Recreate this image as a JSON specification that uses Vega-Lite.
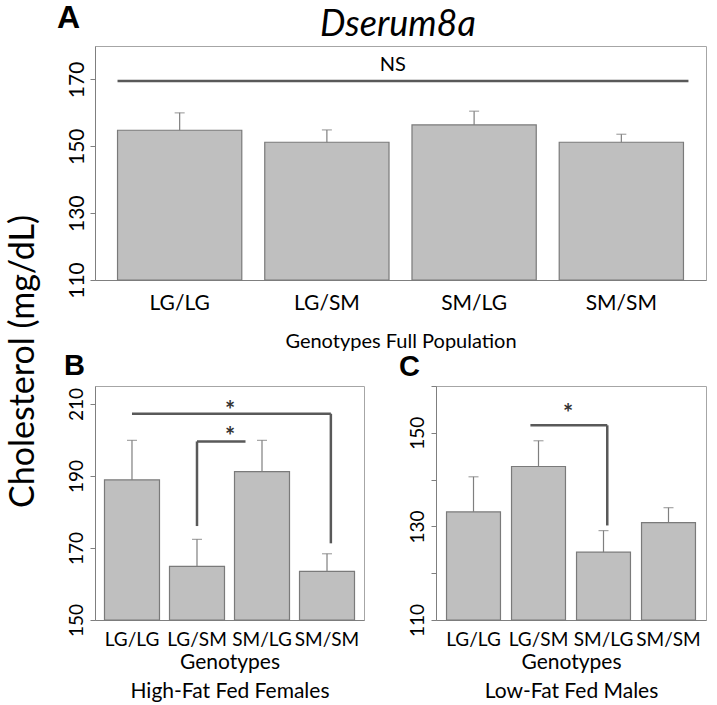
{
  "$schema": "https://vega.github.io/schema/vega-lite/v6.json",
  "background": "white",
  "padding": {"left": 5, "top": 1, "right": 5, "bottom": 0},
  "bounds": "flush",
  "spacing": 106,
  "title": {"text": "Dserum8a", "font": "Lato", "fontStyle": "italic", "fontWeight": "normal", "fontSize": 36, "anchor": "middle", "frame": "group", "dx": 303, "offset": -42, "color": "#000"},
  "datasets": {
    "A": [
      {"genotype": "LG/LG", "mean": 154.8, "upper": 160.0},
      {"genotype": "LG/SM", "mean": 151.2, "upper": 154.9},
      {"genotype": "SM/LG", "mean": 156.4, "upper": 160.5},
      {"genotype": "SM/SM", "mean": 151.2, "upper": 153.6}
    ],
    "B": [
      {"genotype": "LG/LG", "mean": 188.9, "upper": 199.9},
      {"genotype": "LG/SM", "mean": 164.9, "upper": 172.4},
      {"genotype": "SM/LG", "mean": 191.2, "upper": 199.9},
      {"genotype": "SM/SM", "mean": 163.5, "upper": 168.4}
    ],
    "C": [
      {"genotype": "LG/LG", "mean": 133.1, "upper": 140.6},
      {"genotype": "LG/SM", "mean": 142.8, "upper": 148.3},
      {"genotype": "SM/LG", "mean": 124.5, "upper": 129.1},
      {"genotype": "SM/SM", "mean": 130.8, "upper": 134.0}
    ]
  },
  "vconcat": [
    {
      "width": 611,
      "height": 234,
      "data": {"name": "A"},
      "title": {"text": "A", "font": "Liberation Sans", "fontWeight": "bold", "fontSize": 32, "anchor": "start", "frame": "group", "dx": -38, "offset": 11},
      "encoding": {
        "x": {
          "field": "genotype", "type": "nominal",
          "scale": {"paddingInner": 0.156, "paddingOuter": 0.153},
          "axis": {"title": "Genotypes Full Population", "labelAngle": 0, "ticks": false, "labelFontSize": 21, "labelPadding": 12, "titleFontSize": 20, "titlePadding": 18}
        }
      },
      "layer": [
        {
          "mark": {"type": "bar", "fill": "#bfbfbf", "stroke": "#7a7a7a", "strokeWidth": 1.2},
          "encoding": {
            "y": {
              "field": "mean", "type": "quantitative",
              "scale": {"domain": [110, 180], "nice": false, "zero": false},
              "axis": {
                "values": [110, 120, 130, 140, 150, 160, 170, 180],
                "labelExpr": "datum.value % 20 == 10 ? datum.label : ''",
                "labelAngle": -90, "labelAlign": "center", "labelBaseline": "bottom",
                "labelFontSize": 21, "labelPadding": 3, "labelOverlap": false, "tickSize": 5,
                "title": "Cholesterol (mg/dL)", "titleAngle": -90, "titleAlign": "center", "titleBaseline": "middle",
                "titleX": -72, "titleY": 315, "titleFontSize": 34
              }
            },
            "y2": {"datum": 110}
          }
        },
        {
          "mark": {"type": "rule", "color": "#7f7f7f", "strokeWidth": 1.2},
          "encoding": {"y": {"field": "mean", "type": "quantitative"}, "y2": {"field": "upper"}}
        },
        {
          "mark": {"type": "tick", "color": "#7f7f7f", "size": 10, "thickness": 1.2},
          "encoding": {"y": {"field": "upper", "type": "quantitative"}}
        },
        {
          "data": {"values": [{"from": "LG/LG", "to": "SM/SM", "level": 169.5}]},
          "mark": {"type": "rule", "color": "#595959", "strokeWidth": 2.5},
          "encoding": {
            "x": {"field": "from", "type": "nominal", "bandPosition": 0},
            "x2": {"field": "to", "bandPosition": 1.04},
            "y": {"field": "level", "type": "quantitative"}
          }
        },
        {
          "data": {"values": [{"label": "NS", "at": "LG/SM", "level": 174.3}]},
          "mark": {"type": "text", "fontSize": 20, "baseline": "middle", "color": "#000"},
          "encoding": {
            "x": {"field": "at", "type": "nominal", "bandPosition": 1.03},
            "y": {"field": "level", "type": "quantitative"},
            "text": {"field": "label"}
          }
        }
      ]
    },
    {
      "bounds": "flush",
      "spacing": 72,
      "hconcat": [
        {
          "width": 269,
          "height": 234,
          "data": {"name": "B"},
          "title": {"text": "B", "font": "Liberation Sans", "fontWeight": "bold", "fontSize": 29, "anchor": "start", "frame": "group", "dx": -31, "offset": 5},
          "encoding": {
            "x": {
              "field": "genotype", "type": "nominal",
              "scale": {"paddingInner": 0.154, "paddingOuter": 0.146},
              "axis": {"title": ["Genotypes", "High-Fat Fed Females"], "labelAngle": 0, "ticks": false, "labelFontSize": 19, "labelPadding": 10, "titleFontSize": 21, "titleLineHeight": 29, "titlePadding": 2}
            }
          },
          "layer": [
            {
              "mark": {"type": "bar", "fill": "#bfbfbf", "stroke": "#7a7a7a", "strokeWidth": 1.2},
              "encoding": {
                "y": {
                  "field": "mean", "type": "quantitative",
                  "scale": {"domain": [150, 215], "nice": false, "zero": false},
                  "axis": {
                    "values": [150, 160, 170, 180, 190, 200, 210],
                    "labelExpr": "datum.value % 20 == 10 ? datum.label : ''",
                    "labelAngle": -90, "labelAlign": "center", "labelBaseline": "bottom",
                    "labelFontSize": 19, "labelPadding": 4, "labelOverlap": false, "tickSize": 5,
                    "title": null
                  }
                },
                "y2": {"datum": 150}
              }
            },
            {
              "mark": {"type": "rule", "color": "#7f7f7f", "strokeWidth": 1.2},
              "encoding": {"y": {"field": "mean", "type": "quantitative"}, "y2": {"field": "upper"}}
            },
            {
              "mark": {"type": "tick", "color": "#7f7f7f", "size": 10, "thickness": 1.2},
              "encoding": {"y": {"field": "upper", "type": "quantitative"}}
            },
            {
              "data": {"values": [{"from": "LG/LG", "to": "SM/SM", "level": 207.3}]},
              "mark": {"type": "rule", "color": "#595959", "strokeWidth": 2.5},
              "encoding": {
                "x": {"field": "from", "type": "nominal", "bandPosition": 0.5},
                "x2": {"field": "to", "bandPosition": 0.57},
                "y": {"field": "level", "type": "quantitative"}
              }
            },
            {
              "data": {"values": [{"at": "SM/SM", "top": 207.3, "bottom": 171.3}]},
              "mark": {"type": "rule", "color": "#595959", "strokeWidth": 2.5},
              "encoding": {
                "x": {"field": "at", "type": "nominal", "bandPosition": 0.57},
                "y": {"field": "top", "type": "quantitative"},
                "y2": {"field": "bottom"}
              }
            },
            {
              "data": {"values": [{"from": "LG/SM", "to": "SM/LG", "level": 199.6}]},
              "mark": {"type": "rule", "color": "#595959", "strokeWidth": 2.5},
              "encoding": {
                "x": {"field": "from", "type": "nominal", "bandPosition": 0.5},
                "x2": {"field": "to", "bandPosition": 0.2},
                "y": {"field": "level", "type": "quantitative"}
              }
            },
            {
              "data": {"values": [{"at": "LG/SM", "top": 199.6, "bottom": 176.1}]},
              "mark": {"type": "rule", "color": "#595959", "strokeWidth": 2.5},
              "encoding": {
                "x": {"field": "at", "type": "nominal", "bandPosition": 0.5},
                "y": {"field": "top", "type": "quantitative"},
                "y2": {"field": "bottom"}
              }
            },
            {
              "data": {"values": [{"label": "*", "at": "LG/SM", "level": 209.8}, {"label": "*", "at": "LG/SM", "level": 202.4}]},
              "mark": {"type": "text", "fontSize": 24, "fontWeight": "bold", "baseline": "alphabetic", "dy": 14, "color": "#333"},
              "encoding": {
                "x": {"field": "at", "type": "nominal", "bandPosition": 1.1},
                "y": {"field": "level", "type": "quantitative"},
                "text": {"field": "label"}
              }
            }
          ]
        },
        {
          "width": 270,
          "height": 234,
          "data": {"name": "C"},
          "title": {"text": "C", "font": "Liberation Sans", "fontWeight": "bold", "fontSize": 29, "anchor": "start", "frame": "group", "dx": -37, "offset": 4},
          "encoding": {
            "x": {
              "field": "genotype", "type": "nominal",
              "scale": {"paddingInner": 0.17, "paddingOuter": 0.162},
              "axis": {"title": ["Genotypes", "Low-Fat Fed Males"], "labelAngle": 0, "ticks": false, "labelFontSize": 19, "labelPadding": 10, "titleFontSize": 21, "titleLineHeight": 29, "titlePadding": 2}
            }
          },
          "layer": [
            {
              "mark": {"type": "bar", "fill": "#bfbfbf", "stroke": "#7a7a7a", "strokeWidth": 1.2},
              "encoding": {
                "y": {
                  "field": "mean", "type": "quantitative",
                  "scale": {"domain": [110, 160], "nice": false, "zero": false},
                  "axis": {
                    "values": [110, 120, 130, 140, 150, 160],
                    "labelExpr": "datum.value % 20 == 10 ? datum.label : ''",
                    "labelAngle": -90, "labelAlign": "center", "labelBaseline": "bottom",
                    "labelFontSize": 19, "labelPadding": 4, "labelOverlap": false, "tickSize": 5,
                    "title": null
                  }
                },
                "y2": {"datum": 110}
              }
            },
            {
              "mark": {"type": "rule", "color": "#7f7f7f", "strokeWidth": 1.2},
              "encoding": {"y": {"field": "mean", "type": "quantitative"}, "y2": {"field": "upper"}}
            },
            {
              "mark": {"type": "tick", "color": "#7f7f7f", "size": 10, "thickness": 1.2},
              "encoding": {"y": {"field": "upper", "type": "quantitative"}}
            },
            {
              "data": {"values": [{"from": "LG/SM", "to": "SM/LG", "level": 151.6}]},
              "mark": {"type": "rule", "color": "#595959", "strokeWidth": 2.5},
              "encoding": {
                "x": {"field": "from", "type": "nominal", "bandPosition": 0.35},
                "x2": {"field": "to", "bandPosition": 0.57},
                "y": {"field": "level", "type": "quantitative"}
              }
            },
            {
              "data": {"values": [{"at": "SM/LG", "top": 151.6, "bottom": 130.2}]},
              "mark": {"type": "rule", "color": "#595959", "strokeWidth": 2.5},
              "encoding": {
                "x": {"field": "at", "type": "nominal", "bandPosition": 0.57},
                "y": {"field": "top", "type": "quantitative"},
                "y2": {"field": "bottom"}
              }
            },
            {
              "data": {"values": [{"label": "*", "at": "LG/SM", "level": 155.3}]},
              "mark": {"type": "text", "fontSize": 24, "fontWeight": "bold", "baseline": "alphabetic", "dy": 14, "color": "#333"},
              "encoding": {
                "x": {"field": "at", "type": "nominal", "bandPosition": 1.05},
                "y": {"field": "level", "type": "quantitative"},
                "text": {"field": "label"}
              }
            }
          ]
        }
      ]
    }
  ],
  "config": {
    "font": "Lato",
    "view": {"stroke": "#a6a6a6", "strokeWidth": 1},
    "axis": {
      "labelColor": "#000", "titleColor": "#000", "titleFontWeight": "normal", "grid": false,
      "domainColor": "#7f7f7f", "tickColor": "#7f7f7f", "labelFont": "Lato", "titleFont": "Lato"
    },
    "title": {"color": "#000"}
  }
}
